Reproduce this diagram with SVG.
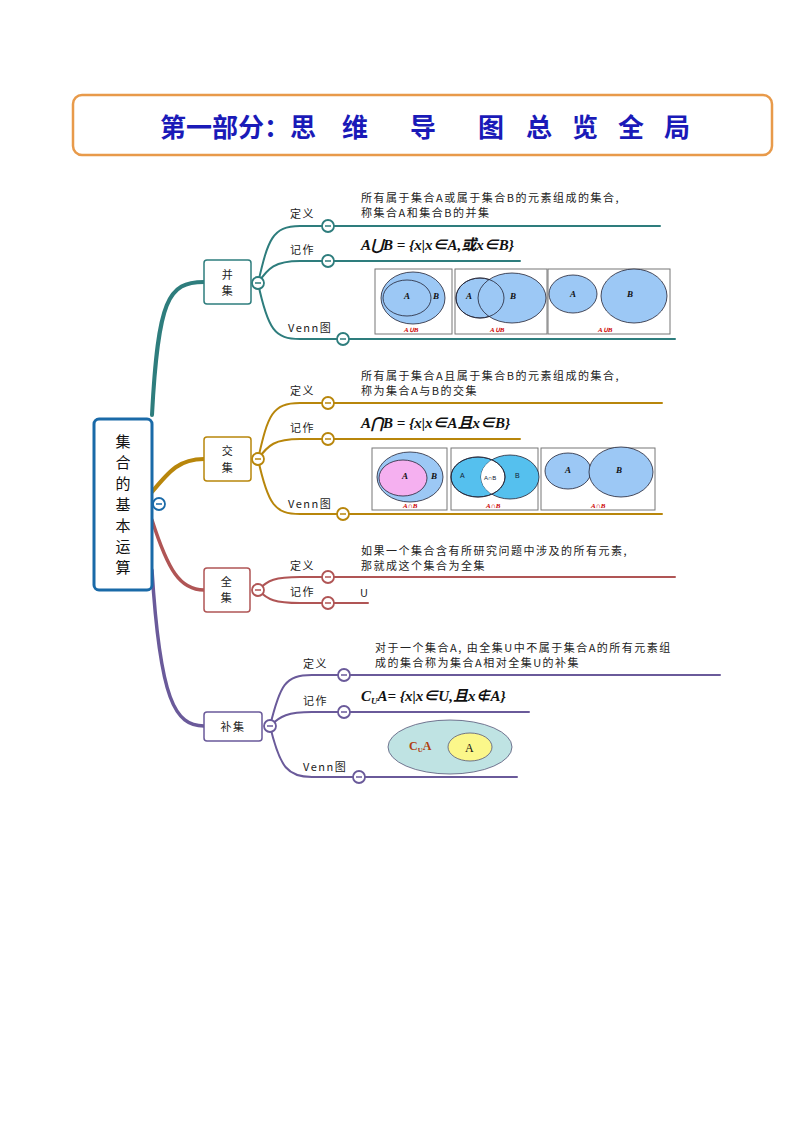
<svg xmlns="http://www.w3.org/2000/svg" width="794" height="1123" viewBox="0 0 794 1123">
<style>
.t{font-family:"Noto Sans CJK SC","Liberation Sans",sans-serif;font-size:11px;fill:#222;letter-spacing:1.5px}
.f{font-family:"Liberation Serif","Noto Sans CJK SC",serif;font-size:15px;font-weight:bold;font-style:italic;fill:#111}
.v{font-family:"Liberation Serif",serif;font-size:9px;font-weight:bold;font-style:italic;fill:#111}
.r{font-family:"Liberation Serif",serif;font-size:7px;font-weight:bold;font-style:italic;fill:#c00}
.b{fill:#fff;stroke-width:1.5}
.c{fill:#fff;stroke-width:1.8}
.vb{fill:#fff;stroke:#777;stroke-width:1}
.e{stroke:#223;stroke-width:0.8}
path{fill:none}
</style>
<defs>
<clipPath id="cb"><ellipse cx="510" cy="477" rx="29" ry="22"/></clipPath>
</defs>
<rect x="73" y="95" width="699" height="60" rx="9" fill="#fff" stroke="#e89a4a" stroke-width="2.5"/>
<text y="137" font-family="Noto Sans CJK SC,sans-serif" font-size="26" font-weight="bold" fill="#1a1ab8"><tspan x="160">第一部分：思</tspan><tspan x="342">维</tspan><tspan x="410">导</tspan><tspan x="478">图</tspan><tspan x="526">总</tspan><tspan x="572">览</tspan><tspan x="618">全</tspan><tspan x="664">局</tspan></text>

<g id="connectors" stroke-linecap="round">
<path d="M152 415 C158 300 168 282 204 282" stroke="#2e7d7d" stroke-width="4"/>
<path d="M152 492 C170 470 180 459 204 459" stroke="#b8860b" stroke-width="4"/>
<path d="M152 520 C168 570 180 590 204 590" stroke="#b05555" stroke-width="3.5"/>
<path d="M152 570 C160 700 175 726 204 726" stroke="#6a5a9a" stroke-width="3.5"/>
<g stroke="#2e7d7d" stroke-width="2">
<path d="M258 283 C268 240 272 226 300 226 L660 226"/>
<path d="M258 283 C268 268 275 261 300 261 L520 261"/>
<path d="M258 283 C268 330 275 339 300 339 L675 339"/>
</g>
<g stroke="#b8860b" stroke-width="2">
<path d="M258 459 C268 415 272 403 300 403 L662 403"/>
<path d="M258 459 C268 445 275 439 300 439 L520 439"/>
<path d="M258 459 C268 505 275 514 300 514 L662 514"/>
</g>
<g stroke="#b05555" stroke-width="2">
<path d="M258 590 C268 580 275 577 300 577 L675 577"/>
<path d="M258 590 C268 600 275 603 300 603 L368 603"/>
</g>
<g stroke="#6a5a9a" stroke-width="2">
<path d="M270 726 C280 685 285 675 312 675 L720 675"/>
<path d="M270 726 C280 716 288 712 312 712 L529 712"/>
<path d="M270 726 C280 768 288 777 312 777 L517 777"/>
</g>
</g>

<g id="root">
<rect x="94" y="419" width="58" height="171" rx="5" fill="#fff" stroke="#1a6aa8" stroke-width="3"/>
<text x="123" y="447" font-family="Noto Sans CJK SC,sans-serif" font-size="15" fill="#111" text-anchor="middle">集</text>
<text x="123" y="468" font-family="Noto Sans CJK SC,sans-serif" font-size="15" fill="#111" text-anchor="middle">合</text>
<text x="123" y="489" font-family="Noto Sans CJK SC,sans-serif" font-size="15" fill="#111" text-anchor="middle">的</text>
<text x="123" y="510" font-family="Noto Sans CJK SC,sans-serif" font-size="15" fill="#111" text-anchor="middle">基</text>
<text x="123" y="531" font-family="Noto Sans CJK SC,sans-serif" font-size="15" fill="#111" text-anchor="middle">本</text>
<text x="123" y="552" font-family="Noto Sans CJK SC,sans-serif" font-size="15" fill="#111" text-anchor="middle">运</text>
<text x="123" y="573" font-family="Noto Sans CJK SC,sans-serif" font-size="15" fill="#111" text-anchor="middle">算</text>
<circle cx="159" cy="504" r="6" class="c" stroke="#1a6aa8"/><line x1="156" y1="504" x2="162" y2="504" stroke="#1a6aa8" stroke-width="1.5"/>
</g>

<g id="bingji">
<rect x="204" y="260" width="47" height="44" rx="3" class="b" stroke="#2e7d7d"/>
<text class="t" text-anchor="middle"><tspan x="228" y="279">并</tspan><tspan x="228" y="295">集</tspan></text>
<g stroke="#2e7d7d" stroke-width="1.5">
<circle cx="258" cy="283" r="6" class="c"/><line x1="255" y1="283" x2="261" y2="283"/>
<circle cx="328" cy="226" r="6" class="c"/><line x1="325" y1="226" x2="331" y2="226"/>
<circle cx="328" cy="261" r="6" class="c"/><line x1="325" y1="261" x2="331" y2="261"/>
<circle cx="343" cy="339" r="6" class="c"/><line x1="340" y1="339" x2="346" y2="339"/>
</g>
<text class="t" x="290" y="218">定义</text><text class="t" x="290" y="254">记作</text><text class="t" x="288" y="332">Venn图</text>
<text class="t" x="361" y="202">所有属于集合A或属于集合B的元素组成的集合,</text>
<text class="t" x="361" y="217">称集合A和集合B的并集</text>
<text class="f" x="361" y="250">A⋃B = {x|x∈A,或x∈B}</text>
<rect x="375" y="269" width="77" height="65" class="vb"/>
<rect x="455" y="269" width="92" height="65" class="vb"/>
<rect x="548" y="269" width="122" height="65" class="vb"/>
<ellipse cx="413" cy="298" rx="32" ry="26" fill="#9cc8f5" class="e"/>
<ellipse cx="407" cy="298" rx="24" ry="18" fill="#9cc8f5" class="e"/>
<ellipse cx="480" cy="298" rx="24" ry="20" fill="#9cc8f5" class="e"/>
<ellipse cx="512" cy="298" rx="34" ry="25" fill="#9cc8f5" class="e"/>
<ellipse cx="480" cy="298" rx="24" ry="20" fill="none" class="e"/>
<ellipse cx="573" cy="294" rx="24" ry="19" fill="#9cc8f5" class="e"/>
<ellipse cx="634" cy="296" rx="33" ry="27" fill="#9cc8f5" class="e"/>
<text class="v" x="404" y="299">A</text><text class="v" x="433" y="299">B</text>
<text class="v" x="466" y="299">A</text><text class="v" x="510" y="299">B</text>
<text class="v" x="570" y="297">A</text><text class="v" x="627" y="297">B</text>
<text class="r" x="404" y="332">A∪B</text><text class="r" x="490" y="332">A∪B</text><text class="r" x="598" y="332">A∪B</text>
</g>

<g id="jiaoji">
<rect x="204" y="437" width="47" height="44" rx="3" class="b" stroke="#b8860b"/>
<text class="t" text-anchor="middle"><tspan x="228" y="455">交</tspan><tspan x="228" y="472">集</tspan></text>
<g stroke="#b8860b" stroke-width="1.5">
<circle cx="258" cy="459" r="6" class="c"/><line x1="255" y1="459" x2="261" y2="459"/>
<circle cx="328" cy="403" r="6" class="c"/><line x1="325" y1="403" x2="331" y2="403"/>
<circle cx="328" cy="439" r="6" class="c"/><line x1="325" y1="439" x2="331" y2="439"/>
<circle cx="343" cy="514" r="6" class="c"/><line x1="340" y1="514" x2="346" y2="514"/>
</g>
<text class="t" x="290" y="395">定义</text><text class="t" x="290" y="432">记作</text><text class="t" x="288" y="508">Venn图</text>
<text class="t" x="361" y="380">所有属于集合A且属于集合B的元素组成的集合,</text>
<text class="t" x="361" y="395">称为集合A与B的交集</text>
<text class="f" x="361" y="428">A⋂B = {x|x∈A且x∈B}</text>
<rect x="372" y="448" width="75" height="62" class="vb"/>
<rect x="451" y="448" width="87" height="62" class="vb"/>
<rect x="541" y="448" width="114" height="62" class="vb"/>
<ellipse cx="410" cy="477" rx="33" ry="25" fill="#9cc8f5" class="e"/>
<ellipse cx="403" cy="478" rx="24" ry="18" fill="#f5b0f0" class="e"/>
<ellipse cx="478" cy="477" rx="27" ry="20" fill="#55c0ee" class="e"/>
<ellipse cx="510" cy="477" rx="29" ry="22" fill="#55c0ee" class="e"/>
<ellipse cx="478" cy="477" rx="27" ry="20" fill="#fff" class="e" clip-path="url(#cb)"/>
<ellipse cx="478" cy="477" rx="27" ry="20" fill="none" class="e"/>
<ellipse cx="568" cy="471" rx="23" ry="18" fill="#9cc8f5" class="e"/>
<ellipse cx="621" cy="472" rx="32" ry="25" fill="#9cc8f5" class="e"/>
<text class="v" x="402" y="479">A</text><text class="v" x="431" y="479">B</text>
<text font-family="Liberation Sans,sans-serif" font-size="7" fill="#123" x="460" y="478">A</text>
<text font-family="Liberation Sans,sans-serif" font-size="6" fill="#123" x="484" y="480">A∩B</text>
<text font-family="Liberation Sans,sans-serif" font-size="7" fill="#123" x="515" y="478">B</text>
<text class="v" x="565" y="473">A</text><text class="v" x="616" y="473">B</text>
<text class="r" x="403" y="508">A∩B</text><text class="r" x="486" y="508">A∩B</text><text class="r" x="591" y="508">A∩B</text>
</g>

<g id="quanji">
<rect x="204" y="568" width="46" height="44" rx="3" class="b" stroke="#b05555"/>
<text class="t" text-anchor="middle"><tspan x="227" y="586">全</tspan><tspan x="227" y="602">集</tspan></text>
<g stroke="#b05555" stroke-width="1.5">
<circle cx="258" cy="590" r="6" class="c"/><line x1="255" y1="590" x2="261" y2="590"/>
<circle cx="328" cy="577" r="6" class="c"/><line x1="325" y1="577" x2="331" y2="577"/>
<circle cx="328" cy="603" r="6" class="c"/><line x1="325" y1="603" x2="331" y2="603"/>
</g>
<text class="t" x="290" y="570">定义</text><text class="t" x="290" y="596">记作</text>
<text class="t" x="361" y="555">如果一个集合含有所研究问题中涉及的所有元素,</text>
<text class="t" x="361" y="570">那就成这个集合为全集</text>
<text class="t" x="360" y="597">U</text>
</g>

<g id="buji">
<rect x="204" y="712" width="58" height="29" rx="3" class="b" stroke="#6a5a9a"/>
<text class="t" x="233" y="731" text-anchor="middle">补集</text>
<g stroke="#6a5a9a" stroke-width="1.5">
<circle cx="270" cy="726" r="6" class="c"/><line x1="267" y1="726" x2="273" y2="726"/>
<circle cx="344" cy="675" r="6" class="c"/><line x1="341" y1="675" x2="347" y2="675"/>
<circle cx="344" cy="712" r="6" class="c"/><line x1="341" y1="712" x2="347" y2="712"/>
<circle cx="359" cy="777" r="6" class="c"/><line x1="356" y1="777" x2="362" y2="777"/>
</g>
<text class="t" x="303" y="668">定义</text><text class="t" x="303" y="705">记作</text><text class="t" x="303" y="771">Venn图</text>
<text class="t" x="375" y="652">对于一个集合A, 由全集U中不属于集合A的所有元素组</text>
<text class="t" x="375" y="667">成的集合称为集合A相对全集U的补集</text>
<text class="f" x="361" y="701">C<tspan font-size="9" dy="3">U</tspan><tspan dy="-3">A= {x|x∈U,且x∉A}</tspan></text>
<ellipse cx="450" cy="747" rx="62" ry="27" fill="#bfe3e3" stroke="#557" stroke-width="0.8"/>
<ellipse cx="470" cy="747" rx="22" ry="14" fill="#fbf78a" stroke="#557" stroke-width="0.8"/>
<text font-family="Liberation Serif,serif" font-size="12" font-weight="bold" fill="#b04010" x="409" y="750">C<tspan font-size="7" dy="2">U</tspan><tspan dy="-2">A</tspan></text>
<text font-family="Liberation Serif,serif" font-size="12" fill="#111" x="465" y="752">A</text>
</g>
</svg>
